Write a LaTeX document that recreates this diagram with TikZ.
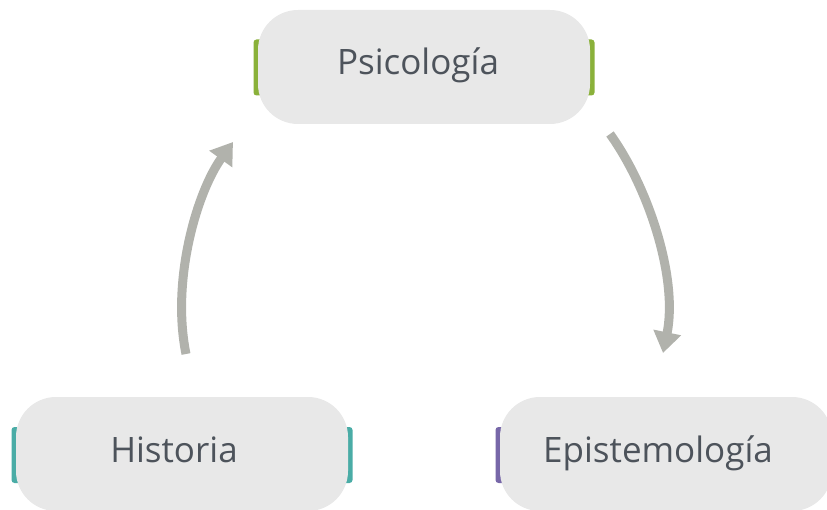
\documentclass[tikz,border=0pt]{standalone}
\usepackage{fontspec}
\setmainfont{Open Sans}
\usetikzlibrary{arrows.meta}
\definecolor{boxfill}{HTML}{E8E8E8}
\definecolor{txt}{HTML}{4D535B}
\definecolor{accgreen}{HTML}{8AB13A}
\definecolor{accteal}{HTML}{4AACA6}
\definecolor{accpurple}{HTML}{7767A8}
\definecolor{arrowgray}{HTML}{B1B2AC}
\begin{document}
\begin{tikzpicture}[x=1pt,y=-1pt,
  box/.style={fill=boxfill, rounded corners=40pt, minimum width=332pt, minimum height=114pt, inner sep=0pt, draw=none},
  bar/.style={rounded corners=3pt, minimum width=341pt, minimum height=56pt, inner sep=0pt, draw=none},
  lbl/.style={text=txt, font=\fontsize{35}{40}\selectfont, anchor=base, inner sep=0pt},
  flow/.style={draw=arrowgray, line width=9pt, -{Triangle[width=27pt,length=21pt]}}]
\useasboundingbox (0,0) rectangle (827,510);
\clip (0,0) rectangle (827,510);
% accent bars
\node[bar, fill=accgreen] (pbar) at (424,67.5) {};
\node[bar, fill=accteal] (hbar) at (182,455) {};
\node[bar, fill=accpurple] (ebar) at (666,455) {};
% boxes
\node[box] (psi) at (424,67) {};
\node[box] (his) at (182,454) {};
\node[box] (epi) at (666,454) {};
% labels
\node[lbl] (psit) at (418,75) {Psicología};
\node[lbl] (hist) at (174,462) {Historia};
\node[lbl] (epit) at (658,462) {Epistemología};
% arrows
\coordinate (a1s) at (186,354);
\coordinate (a1e) at (233,142);
\coordinate (a2s) at (610,134);
\coordinate (a2e) at (663,353);
\draw[flow] (a1s) .. controls (171,280) and (197,192) .. (a1e);
\draw[flow] (a2s) .. controls (650,190) and (678,280) .. (a2e);
\end{tikzpicture}
\end{document}
